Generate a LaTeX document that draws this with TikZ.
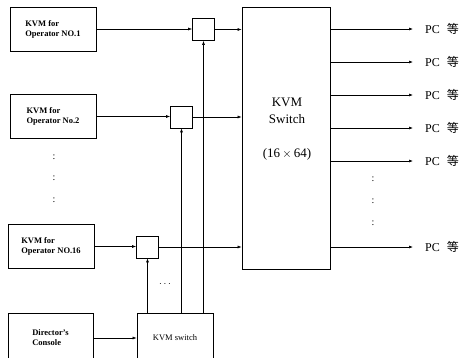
\documentclass[tikz,border=0pt]{standalone}
\usepackage{fontspec}
\setmainfont{Liberation Serif}
\newfontfamily\cjk{Noto Sans CJK SC}
\usetikzlibrary{arrows.meta,positioning}
\tikzset{
  kvm/op/.style={draw, line width=0.8pt, minimum width=86pt, minimum height=44pt, align=left, font=\fontsize{8.5}{10}\selectfont\bfseries},
  kvm/ctl/.style={draw, line width=0.8pt, minimum height=50pt, align=left, font=\fontsize{8.5}{10}\selectfont},
  kvm/mux/.style={draw, line width=0.7pt, minimum size=22pt, inner sep=0pt},
  kvm/switch/.style={draw, line width=0.8pt, minimum width=88pt, minimum height=262pt},
  kvm/pc/.style={anchor=west, inner xsep=12pt, inner ysep=1pt, font=\fontsize{12}{14}\selectfont},
  kvm/dots/.style={font=\fontsize{10}{12}\selectfont, inner sep=0pt},
  kvm/arr/.style={-{Latex[length=4pt,width=3pt]}, line width=0.6pt},
  kvm/line/.style={line width=0.6pt}
}
\newcommand{\pcetc}{PC\hspace{7pt}{\cjk 等}}

\begin{document}
\begin{tikzpicture}[x=1pt, y=-1pt]
\useasboundingbox (0,0) rectangle (467,357);
\clip (0,0) rectangle (467,357);
% operator consoles
\node (op1) [kvm/op] at (53,29) {KVM for\\Operator NO.1};
\node (op2) [kvm/op] at (53,116.5) {KVM for\\Operator No.2};
\node (op16) [kvm/op] at (51,246.5) {KVM for\\Operator NO.16};
\node (dir) [kvm/ctl, minimum width=85pt, font=\fontsize{8.5}{10}\selectfont\bfseries] at (50.5,338) {Director's\\Console};
\node (ksw) [kvm/ctl, minimum width=76pt] at (175,338) {KVM switch};
% selectors
\node (s1) [kvm/mux] at (203.5,29.5) {};
\node (s2) [kvm/mux] at (181.5,117) {};
\node (s16) [kvm/mux] at (147.5,247) {};
% matrix switch
\node (sw) [kvm/switch] at (286,138) {};
\node (swtext) [font=\fontsize{13}{17}\selectfont, align=center] at (287,129) {KVM\\Switch\\[17pt](16\,$\times$\,64)};
% outputs
\node (pc1) [kvm/pc] at (413,29) {\pcetc};
\node (pc2) [kvm/pc] at (413,62) {\pcetc};
\node (pc3) [kvm/pc] at (413,95) {\pcetc};
\node (pc4) [kvm/pc] at (413,128) {\pcetc};
\node (pc5) [kvm/pc] at (413,161) {\pcetc};
\node (pc6) [kvm/pc] at (413,247) {\pcetc};
% ellipses
\node (vl1) [kvm/dots] at (54,157) {:};
\node (vl2) [kvm/dots] at (54,178) {:};
\node (vl3) [kvm/dots] at (54,200) {:};
\node (vr1) [kvm/dots] at (373,179) {:};
\node (vr2) [kvm/dots] at (373,201) {:};
\node (vr3) [kvm/dots] at (373,223) {:};
\node (hdots) [kvm/dots] at (165,284) {$\cdots$};

\draw[kvm/arr] (op1.east) -- (op1.east -| s1.west);
\draw[kvm/arr] (op2.east) -- (op2.east -| s2.west);
\draw[kvm/arr] (op16.east) -- (op16.east -| s16.west);
\draw[kvm/arr] (s1.east) -- (s1.east -| sw.west);
\draw[kvm/arr] (s2.east) -- (s2.east -| sw.west);
\draw[kvm/arr] (s16.east) -- (s16.east -| sw.west);
\draw[kvm/arr] (dir.east |- ksw.west) -- (ksw.west);
\draw[kvm/arr] (s1.south |- ksw.north) -- (s1.south);
\draw[kvm/arr] (s2.south |- ksw.north) -- (s2.south);
\draw[kvm/arr] (s16.south |- ksw.north) -- (s16.south);
\draw[kvm/arr] (sw.east |- pc1.west) -- (pc1.west);
\draw[kvm/arr] (sw.east |- pc2.west) -- (pc2.west);
\draw[kvm/arr] (sw.east |- pc3.west) -- (pc3.west);
\draw[kvm/arr] (sw.east |- pc4.west) -- (pc4.west);
\draw[kvm/arr] (sw.east |- pc5.west) -- (pc5.west);
\draw[kvm/arr] (sw.east |- pc6.west) -- (pc6.west);
\end{tikzpicture}
\end{document}
